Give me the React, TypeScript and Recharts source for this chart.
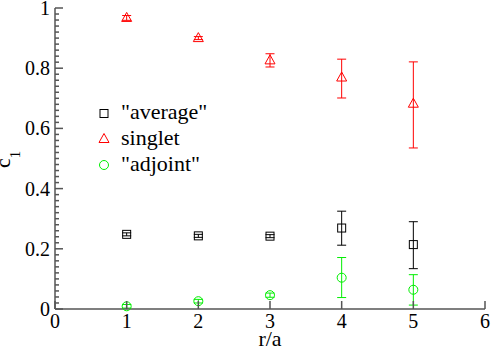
import React from 'react';
import {
  ScatterChart,
  Scatter,
  XAxis,
  YAxis,
  ErrorBar,
  Legend
} from 'recharts';

const rValues = [1, 2, 3, 4, 5];

const average = [0.248, 0.243, 0.242, 0.269, 0.214];
const averageErr = [[0.005, 0.005], [0.005, 0.005], [0.005, 0.005], [0.057, 0.056], [0.08, 0.076]];

const singlet = [0.967, 0.9, 0.826, 0.769, 0.682];
const singletErr = [[0.008, 0.008], [0.005, 0.005], [0.022, 0.022], [0.068, 0.061], [0.147, 0.139]];

const adjoint = [0.009, 0.026, 0.046, 0.104, 0.064];
const adjointErr = [[0.006, 0.006], [0.006, 0.006], [0.007, 0.007], [0.066, 0.067], [0.051, 0.05]];

const xTicks = [0, 1, 2, 3, 4, 5, 6];
const yMajorTicks = [0, 0.2, 0.4, 0.6, 0.8, 1];
const yLabels = ['0', '0.2', '0.4', '0.6', '0.8', '1'];
// minor ticks every 0.02
const yTicks = Array.from({ length: 51 }, (_, i) => i / 50);

const AXIS = '#555';
const FONT = "'Liberation Serif', 'DejaVu Serif', serif";
const txt = (size: number) => ({ fontFamily: FONT, fontSize: size });

const toPoints = (vals: number[], errs: number[][]) =>
  rValues.map((r, i) => ({ r, y: vals[i], err: errs[i] }));

const Square = ({ cx, cy, stroke }: any) => (
  <rect x={cx - 4} y={cy - 4} width={8} height={8} fill="none" stroke={stroke} strokeWidth={1} />
);
const Triangle = ({ cx, cy, stroke }: any) => (
  <polygon
    points={`${cx},${cy - 5.5} ${cx - 5},${cy + 3.5} ${cx + 5},${cy + 3.5}`}
    fill="none"
    stroke={stroke}
    strokeWidth={1}
  />
);
const Circle = ({ cx, cy, stroke }: any) => (
  <circle cx={cx} cy={cy} r={4.5} fill="none" stroke={stroke} strokeWidth={1} />
);

const isMajor = (v: number) => Math.round(v * 100) % 20 === 0;

const LeftTick = ({ x, y, payload }: any) => {
  const v = payload.value;
  const major = isMajor(v);
  const idx = yMajorTicks.findIndex((t) => Math.abs(t - v) < 1e-6);
  return (
    <g>
      <line x1={x} x2={x + (major ? 8 : 4)} y1={y} y2={y} stroke={AXIS} strokeWidth={1.5} />
      {major && (
        <text x={x - 5} y={y + 7} textAnchor="end" fill="#000" style={txt(20)}>
          {yLabels[idx]}
        </text>
      )}
    </g>
  );
};

const RightTick = ({ x, y, payload }: any) => (
  <line x1={x} x2={x - (isMajor(payload.value) ? 8 : 4)} y1={y} y2={y} stroke={AXIS} strokeWidth={1.5} />
);

const BottomTick = ({ x, y, payload }: any) => (
  <g>
    <line x1={x} x2={x} y1={y} y2={y - 8} stroke={AXIS} strokeWidth={1.5} />
    <text x={x} y={y + 19} textAnchor="middle" fill="#000" style={txt(20)}>
      {payload.value}
    </text>
  </g>
);

const TopTick = ({ x, y }: any) => (
  <line x1={x} x2={x} y1={y} y2={y + 8} stroke={AXIS} strokeWidth={1.5} />
);

const renderLegend = () => (
  <svg width={160} height={80} style={{ overflow: 'visible' }}>
    <Square cx={8} cy={13.5} stroke="#000" />
    <text x={25} y={19} fill="#000" style={txt(22)}>"average"</text>
    <Triangle cx={8} cy={39} stroke="#ff0000" />
    <text x={25} y={45} fill="#000" style={txt(22)}>singlet</text>
    <Circle cx={8} cy={65} stroke="#00ee00" />
    <text x={25} y={71} fill="#000" style={txt(22)}>"adjoint"</text>
  </svg>
);

export default function App() {
  return (
    <div style={{ position: 'absolute', left: 0, top: 0, background: '#fff', fontFamily: FONT }}>
      <ScatterChart
        width={491}
        height={349}
        margin={{ top: 8, right: 6, bottom: 0, left: 8 }}
        style={{ fontFamily: FONT }}
      >
        <XAxis
          dataKey="r"
          type="number"
          domain={[0, 6]}
          ticks={xTicks}
          interval={0}
          height={40}
          tickSize={0}
          tickMargin={0}
          tickLine={false}
          tick={<BottomTick />}
          axisLine={{ stroke: AXIS, strokeWidth: 1.5 }}
          label={{
            content: () => (
              <text x={270} y={346} textAnchor="middle" fill="#000" style={txt(22)}>
                r/a
              </text>
            )
          }}
        />
        <XAxis
          xAxisId="top"
          orientation="top"
          type="number"
          domain={[0, 6]}
          ticks={xTicks}
          interval={0}
          height={0}
          tickSize={0}
          tickMargin={0}
          tickLine={false}
          tick={<TopTick />}
          axisLine={{ stroke: AXIS, strokeWidth: 1.5 }}
        />
        <YAxis
          dataKey="y"
          type="number"
          domain={[0, 1]}
          ticks={yTicks}
          interval={0}
          width={47}
          tickSize={0}
          tickMargin={0}
          tickLine={false}
          tick={<LeftTick />}
          axisLine={{ stroke: AXIS, strokeWidth: 1.5 }}
          label={{
            content: () => (
              <text
                x={0}
                y={0}
                transform="translate(10,168) rotate(-90)"
                fill="#000"
                style={txt(22)}
              >
                c<tspan dy={10} style={{ fontSize: 15 }}>1</tspan>
              </text>
            )
          }}
        />
        <YAxis
          yAxisId="right"
          orientation="right"
          type="number"
          domain={[0, 1]}
          ticks={yTicks}
          interval={0}
          width={0}
          tickSize={0}
          tickMargin={0}
          tickLine={false}
          tick={<RightTick />}
          axisLine={{ stroke: AXIS, strokeWidth: 1.5 }}
        />
        <Legend
          layout="vertical"
          align="center"
          verticalAlign="middle"
          content={renderLegend}
          wrapperStyle={{ position: 'absolute', left: 96, top: 100, width: 160, height: 80 }}
        />
        <Scatter
          name='"average"'
          data={toPoints(average, averageErr)}
          isAnimationActive={false}
          shape={(p: any) => <Square cx={p.cx} cy={p.cy} stroke="#000" />}
        >
          <ErrorBar dataKey="err" direction="y" width={4.5} stroke="#000" strokeWidth={1} />
        </Scatter>
        <Scatter
          name="singlet"
          data={toPoints(singlet, singletErr)}
          isAnimationActive={false}
          shape={(p: any) => <Triangle cx={p.cx} cy={p.cy} stroke="#ff0000" />}
        >
          <ErrorBar dataKey="err" direction="y" width={4.5} stroke="#ff0000" strokeWidth={1} />
        </Scatter>
        <Scatter
          name='"adjoint"'
          data={toPoints(adjoint, adjointErr)}
          isAnimationActive={false}
          shape={(p: any) => <Circle cx={p.cx} cy={p.cy} stroke="#00ee00" />}
        >
          <ErrorBar dataKey="err" direction="y" width={4.5} stroke="#00ee00" strokeWidth={1} />
        </Scatter>
      </ScatterChart>
    </div>
  );
}
